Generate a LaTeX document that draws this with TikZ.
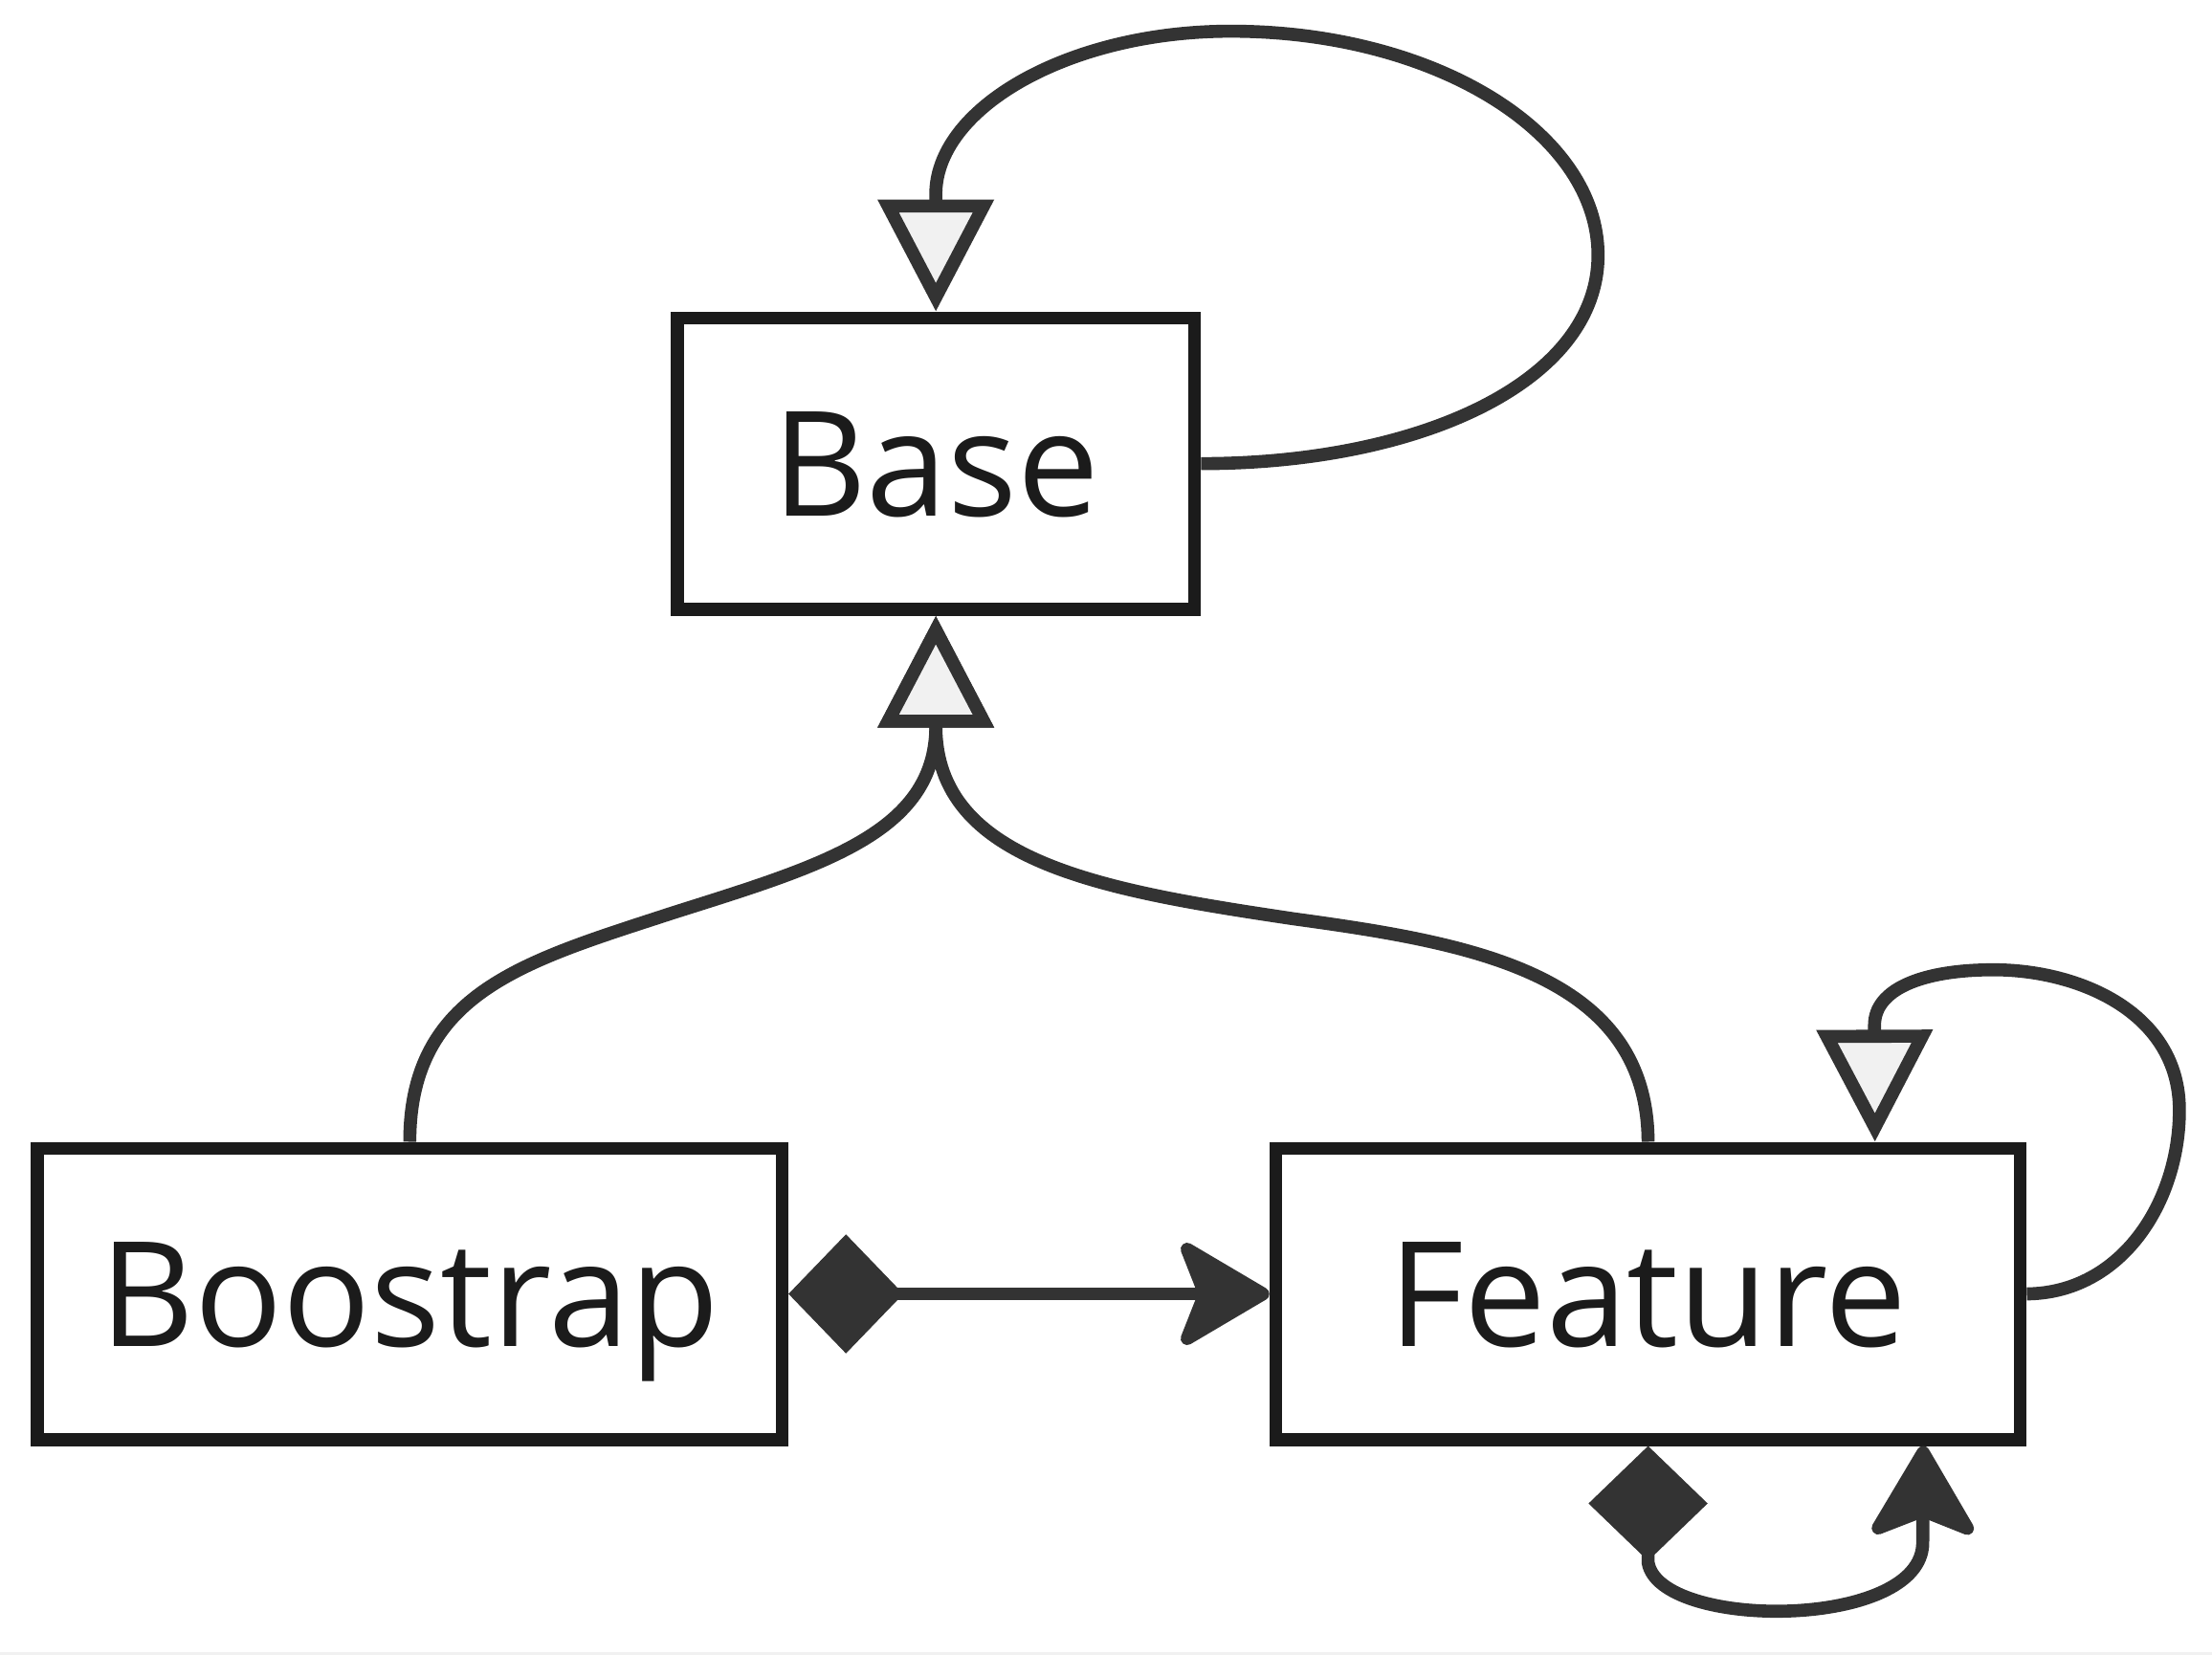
\documentclass[tikz,border=0pt]{standalone}
\usepackage{fontspec}
\setmainfont{Open Sans}
\usetikzlibrary{arrows.meta}

\definecolor{boxline}{HTML}{1B1B1B}
\definecolor{edgeline}{HTML}{333333}
\definecolor{hollow}{HTML}{F1F1F1}

\tikzset{
    cls/.style={draw=boxline, line width=4.6pt, fill=white, inner sep=0pt,
        minimum height=102.7pt, text=boxline,
        font=\fontsize{51.5pt}{60pt}\selectfont, text height=36.8pt, text depth=0pt},
    rel/.style={draw=edgeline, line width=4.6pt},
    inherits/.style={-{Triangle[length=39.5pt, width=40pt, fill=hollow]}},
    owns/.style={{Diamond[length=40.5pt, width=42pt]}-{Stealth[length=35.5pt, width=41.5pt, inset=8pt, round]}}
}

\begin{document}
\begin{tikzpicture}[x=0.5pt, y=-0.5pt]
    \useasboundingbox (0,0) rectangle (1560,1167.3);
    \fill [hollow] (0,1165) rectangle (1560,1167.3);
    \node [cls, minimum width=182.5pt] (base) at (660,327) {Base};
\node [cls, minimum width=262.5pt] (boot) at (289,912.6) {Boostrap};
\node [cls, minimum width=262.5pt] (feature) at (1162.3,912.6) {Feature};
\draw [rel, inherits] (base.east) .. controls (1000,327) and (1127,270) .. (1127,180)
    .. controls (1127,93) and (1011,22) .. (868,22)
    .. controls (755,22) and (662,75) .. (660,135) -- (base.north);
\draw [rel, inherits] (boot.north) .. controls (289,700) and (370,678) .. (474,644)
    .. controls (578,611) and (660,588) .. (660,512) -- (base.south);
\draw [rel, inherits] (feature.north) .. controls (1162,686) and (1036,665) .. (912,648)
    .. controls (778,628) and (660,608) .. (660,512) -- (base.south);
\draw [rel, owns] (boot.east) -- (feature.west);
\draw [rel, inherits] (feature.east) .. controls (1496,912) and (1537,848) .. (1537,783)
    .. controls (1537,714) and (1466,684) .. (1406,684)
    .. controls (1355,684) and (1322,698) .. (1322,723) -- ([xshift=80pt]feature.north);
\draw [rel, owns] (feature.south) -- (1162.3,1102) .. controls (1170,1150) and (1356,1150) .. (1356,1088)
    -- ([xshift=97pt]feature.south);
\end{tikzpicture}
\end{document}
